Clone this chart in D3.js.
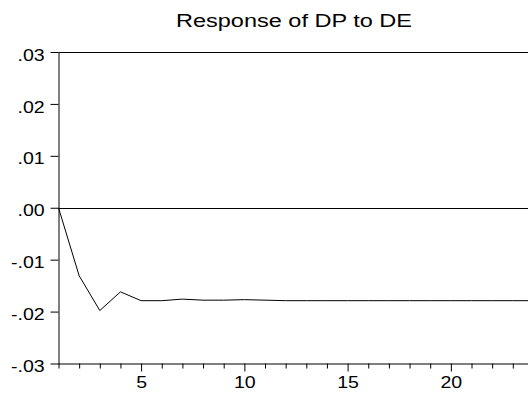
<!DOCTYPE html>
<html>
<head>
<meta charset="utf-8">
<script src="https://cdn.jsdelivr.net/npm/d3@7"></script>
<style>
  html, body { margin: 0; padding: 0; background: #fff; }
  svg { display: block; font-family: "Liberation Sans", Arial, sans-serif; }
</style>
</head>
<body>
<div id="chart"></div>
<script>
const title = "Response of DP to DE";
const periods = d3.range(1, 25);
const response = [0, -0.0131, -0.0198, -0.0162, -0.0179, -0.0179, -0.0176, -0.0178,
  -0.0178, -0.0177, -0.0178, -0.0179, -0.0179, -0.0179, -0.0179, -0.0179,
  -0.0179, -0.0179, -0.0179, -0.0179, -0.0179, -0.0179, -0.0179, -0.0179];
const yTicks = [0.03, 0.02, 0.01, 0, -0.01, -0.02, -0.03];
const yTickLabels = [".03", ".02", ".01", ".00", "-.01", "-.02", "-.03"];
const xMajorTicks = [5, 10, 15, 20];

const width = 528;
const height = 394;
const marginLeft = 58.5;
const plotTop = 52;
const plotBottom = 363.5;

const x = d3.scaleLinear().domain([1, 24]).range([marginLeft, marginLeft + 23 * 20.65]);
const y = d3.scaleLinear().domain([-0.03, 0.03]).range([plotBottom, plotTop]);

const svg = d3.select("#chart")
  .append("svg")
  .attr("width", width)
  .attr("height", height)
  .attr("viewBox", [0, 0, width, height]);

svg.append("text")
  .attr("x", 294)
  .attr("y", 27)
  .attr("text-anchor", "middle")
  .attr("font-size", 18)
  .attr("textLength", 236)
  .attr("lengthAdjust", "spacingAndGlyphs")
  .attr("fill", "#000")
  .text(title);

// frame: top border
svg.append("line")
  .attr("x1", marginLeft).attr("x2", width)
  .attr("y1", plotTop + 0.5).attr("y2", plotTop + 0.5)
  .attr("stroke", "#000");

// zero line
svg.append("line")
  .attr("x1", marginLeft).attr("x2", width)
  .attr("y1", Math.round(y(0)) + 0.5).attr("y2", Math.round(y(0)) + 0.5)
  .attr("stroke", "#000");

// y axis
const yAxis = svg.append("g")
  .attr("transform", `translate(${marginLeft},0)`)
  .attr("font-family", null)
  .call(d3.axisLeft(y)
    .tickValues(yTicks)
    .tickFormat((d, i) => yTickLabels[i])
    .tickSizeInner(8)
    .tickSizeOuter(0)
    .tickPadding(4));
yAxis.attr("font-family", null);
yAxis.selectAll("text")
  .attr("font-size", 17)
  .attr("fill", "#000")
  .attr("dy", "0.48em")
  .attr("transform", "scale(1.15,1)");
yAxis.select(".domain").attr("stroke", "#000");

// x axis minor ticks
const xMinor = svg.append("g")
  .attr("transform", `translate(0,${plotBottom})`)
  .call(d3.axisBottom(x)
    .tickValues(periods.filter(d => !xMajorTicks.includes(d)))
    .tickFormat("")
    .tickSizeInner(5)
    .tickSizeOuter(0));
xMinor.select(".domain").attr("d", `M${marginLeft},0.5H${width}`).attr("stroke", "#000");

// x axis major ticks
const xMajor = svg.append("g")
  .attr("transform", `translate(0,${plotBottom})`)
  .call(d3.axisBottom(x)
    .tickValues(xMajorTicks)
    .tickFormat(d3.format("d"))
    .tickSizeInner(8)
    .tickSizeOuter(0)
    .tickPadding(4));
xMajor.select(".domain").remove();
xMajor.attr("font-family", null);
xMajor.selectAll("text")
  .attr("font-size", 17)
  .attr("fill", "#000")
  .attr("transform", "scale(1.15,1)")
  .attr("x", function() { return 0; });
// scale about each tick's own position
xMajor.selectAll(".tick text").attr("transform", null).each(function() {
  d3.select(this).attr("transform", "scale(1.15,1)");
});

// response line
const line = d3.line()
  .x((d, i) => x(periods[i]))
  .y(d => y(d));

svg.append("path")
  .datum(response)
  .attr("fill", "none")
  .attr("stroke", "#000")
  .attr("stroke-width", 1)
  .attr("d", line);
</script>
</body>
</html>
